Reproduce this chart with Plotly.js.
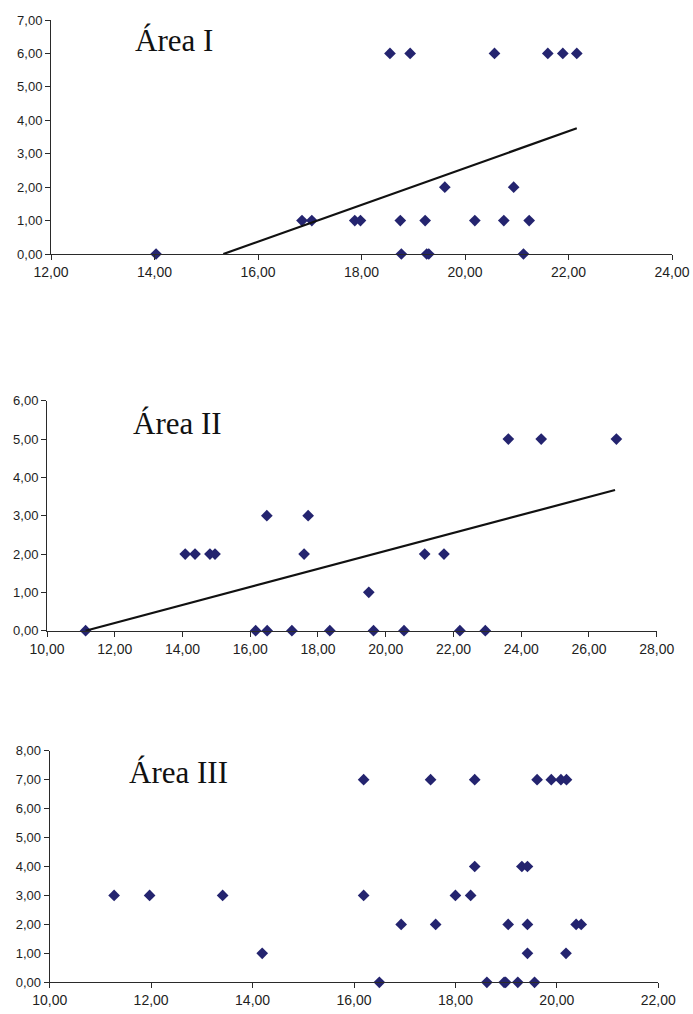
<!DOCTYPE html>
<html>
<head>
<meta charset="utf-8">
<script src="https://cdn.plot.ly/plotly-3.0.1.min.js"></script>
<style>html,body{margin:0;padding:0;background:#fff;}#chart{width:693px;height:1014px;}</style>
</head>
<body>
<div id="chart"></div>
<script>
// Área I
const area1X = [14.03, 16.85, 17.04, 17.87, 17.98, 18.75, 19.23, 20.19, 20.75, 21.24, 19.61, 20.94, 18.55, 18.94, 20.57, 21.60, 21.89, 22.16, 18.77, 19.26, 19.30, 21.13];
const area1Y = [0, 1, 1, 1, 1, 1, 1, 1, 1, 1, 2, 2, 6, 6, 6, 6, 6, 6, 0, 0, 0, 0];
const trend1X = [15.33, 22.16];
const trend1Y = [0, 3.76];

// Área II
const area2X = [11.14, 16.16, 16.50, 17.23, 18.35, 19.64, 20.54, 22.19, 22.94, 19.50, 14.08, 14.37, 14.81, 14.96, 17.59, 21.15, 21.72, 16.49, 17.71, 23.62, 24.59, 26.81];
const area2Y = [0, 0, 0, 0, 0, 0, 0, 0, 0, 1, 2, 2, 2, 2, 2, 2, 2, 3, 3, 5, 5, 5];
const trend2X = [11.14, 26.77];
const trend2Y = [0, 3.67];

// Área III
const area3X = [16.50, 18.62, 18.96, 18.99, 19.23, 19.56, 14.19, 19.42, 20.18, 16.93, 17.61, 19.04, 19.42, 20.38, 20.48, 11.27, 11.97, 13.41, 16.19, 18.00, 18.30, 18.38, 19.31, 19.42, 16.19, 17.51, 18.38, 19.61, 19.89, 20.08, 20.19];
const area3Y = [0, 0, 0, 0, 0, 0, 1, 1, 1, 2, 2, 2, 2, 2, 2, 3, 3, 3, 3, 3, 3, 4, 4, 4, 7, 7, 7, 7, 7, 7, 7];

const titles = ['Área I', 'Área II', 'Área III'];
const xRanges = [[12, 24], [10, 28], [10, 22]];
const yRanges = [[0, 7], [0, 6], [0, 8]];

const W = 693, H = 1014;
const markerStyle = {symbol: 'diamond', size: 9, color: '#24246f'};
const lineStyle = {color: '#111111', width: 2.2};

const traces = [
  {x: area1X, y: area1Y, xaxis: 'x', yaxis: 'y', type: 'scatter', mode: 'markers', marker: markerStyle, cliponaxis: false},
  {x: trend1X, y: trend1Y, xaxis: 'x', yaxis: 'y', type: 'scatter', mode: 'lines', line: lineStyle},
  {x: area2X, y: area2Y, xaxis: 'x2', yaxis: 'y2', type: 'scatter', mode: 'markers', marker: markerStyle, cliponaxis: false},
  {x: trend2X, y: trend2Y, xaxis: 'x2', yaxis: 'y2', type: 'scatter', mode: 'lines', line: lineStyle},
  {x: area3X, y: area3Y, xaxis: 'x3', yaxis: 'y3', type: 'scatter', mode: 'markers', marker: markerStyle, cliponaxis: false}
];

// plot areas in pixels [left, right, top, bottom]
const boxes = [[51, 672, 20, 254], [47, 656.7, 400.7, 630.7], [49.7, 658.3, 750.7, 982.3]];
const titlePos = [[133, 41], [131, 423], [127, 772]];

function xAxis(i, anchor) {
  const b = boxes[i];
  return {
    domain: [b[0] / W, b[1] / W], anchor: anchor, range: xRanges[i], dtick: 2,
    tickformat: '.2f', showgrid: false, zeroline: false, showline: true,
    linecolor: '#2a2a2a', linewidth: 1, ticks: 'outside', ticklen: 5, tickcolor: '#2a2a2a',
    tickfont: {family: 'Liberation Sans, Arial, sans-serif', size: 14, color: '#1e1e1e'}, fixedrange: true
  };
}
function yAxis(i, anchor) {
  const b = boxes[i];
  return {
    domain: [1 - b[3] / H, 1 - b[2] / H], anchor: anchor, range: yRanges[i], dtick: 1,
    tickformat: '.2f', showgrid: false, zeroline: false, showline: true,
    linecolor: '#2a2a2a', linewidth: 1, ticks: 'outside', ticklen: 5, tickcolor: '#2a2a2a',
    tickfont: {family: 'Liberation Sans, Arial, sans-serif', size: 13, color: '#1e1e1e'}, fixedrange: true
  };
}

const layout = {
  width: W, height: H,
  margin: {l: 0, r: 0, t: 0, b: 0},
  paper_bgcolor: '#ffffff', plot_bgcolor: '#ffffff',
  showlegend: false,
  separators: ',.',
  xaxis: xAxis(0, 'y'), yaxis: yAxis(0, 'x'),
  xaxis2: xAxis(1, 'y2'), yaxis2: yAxis(1, 'x2'),
  xaxis3: xAxis(2, 'y3'), yaxis3: yAxis(2, 'x3'),
  annotations: titles.map((t, i) => ({
    text: t, xref: 'paper', yref: 'paper',
    x: titlePos[i][0] / W, y: 1 - titlePos[i][1] / H,
    xanchor: 'left', yanchor: 'middle', showarrow: false,
    font: {family: 'Liberation Serif, Times New Roman, serif', size: 31, color: '#111111'}
  }))
};

Plotly.newPlot('chart', traces, layout, {staticPlot: true, displayModeBar: false});
</script>
</body>
</html>
